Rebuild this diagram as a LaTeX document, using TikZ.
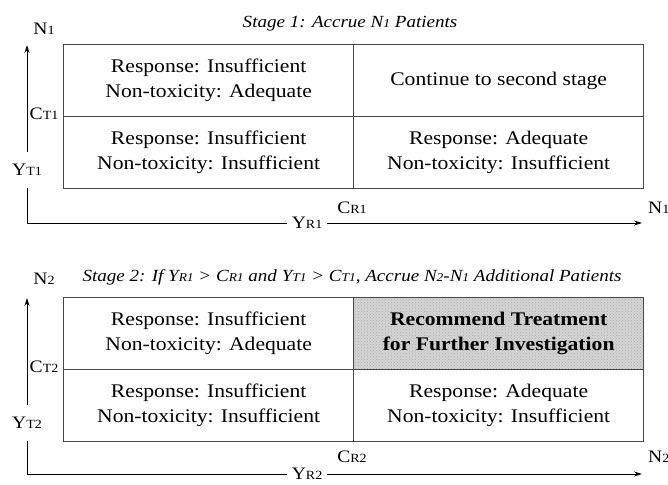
\documentclass[tikz,border=0pt]{standalone}
\usepackage{fontspec}
\setmainfont[FakeStretch=1.12]{Liberation Serif}
\usetikzlibrary{arrows.meta,patterns}
\newcommand\axlab[2]{{\fontsize{17.5}{19}\selectfont #1}{\fontsize{12.5}{14}\selectfont #2}}
\newcommand\ttlsub[1]{{\fontsize{12}{14}\selectfont #1}}
\begin{document}
\begin{tikzpicture}[x=1pt,y=-1pt,
  cell/.style={draw=black!72, line width=1.3pt, minimum width=290pt, minimum height=72pt,
    align=center, inner sep=0pt, anchor=north west, font=\fontsize{19.3}{25}\selectfont},
  shaded/.style={preaction={fill=black!17}, pattern=crosshatch dots, pattern color=black!32},
  axis/.style={draw=black, line width=0.9pt},
  arr/.style={-{Stealth[length=8pt,width=5pt]}},
  lab/.style={inner sep=0pt},
  ttl/.style={inner sep=0pt, font=\fontsize{17}{20}\selectfont\itshape}]
\useasboundingbox (0,0) rectangle (668,484);

% ---------- Stage 1 ----------
\node[ttl] (t1) at (350,24) {Stage 1: Accrue N\ttlsub{1} Patients};
\node[cell] (a11) at (63,44) {Response: Insufficient\\Non-toxicity: Adequate};
\node[cell] (a12) at (353,44) {Continue to second stage};
\node[cell] (a21) at (63,116) {Response: Insufficient\\Non-toxicity: Insufficient};
\node[cell] (a22) at (353,116) {Response: Adequate\\Non-toxicity: Insufficient};

\node[lab] (n1top) at (44,29) {\axlab{N}{1}};
\node[lab] (ct1) at (44,114) {\axlab{C}{T1}};
\node[lab, minimum height=36pt] (yt1) at (27,170) {\axlab{Y}{T1}};
\node[lab] (cr1) at (352,208) {\axlab{C}{R1}};
\node[lab, anchor=west] (n1r) at (648,208) {\axlab{N}{1}};
\node[lab, minimum width=39pt] (yr1) at (307,223) {\axlab{Y}{R1}};
\coordinate (v1top) at (27,45);
\coordinate (h1end) at (642,223);

\draw[axis,arr] (yt1.north) -- (v1top);
\draw[axis] (yt1.south) |- (yr1.west);
\draw[axis,arr] (yr1.east) -- (h1end);

% ---------- Stage 2 ----------
\node[ttl] (t2) at (352,277) {Stage 2: If Y\ttlsub{R1} {>} C\ttlsub{R1} and Y\ttlsub{T1} {>} C\ttlsub{T1}, Accrue N\ttlsub{2}-N\ttlsub{1} Additional Patients};
\node[cell] (b11) at (63,297) {Response: Insufficient\\Non-toxicity: Adequate};
\node[cell, shaded, font=\fontsize{19.3}{25}\selectfont\bfseries] (b12) at (353,297) {Recommend Treatment\\for Further Investigation};
\node[cell] (b21) at (63,369) {Response: Insufficient\\Non-toxicity: Insufficient};
\node[cell] (b22) at (353,369) {Response: Adequate\\Non-toxicity: Insufficient};

\node[lab] (n2top) at (44,279) {\axlab{N}{2}};
\node[lab] (ct2) at (44,367) {\axlab{C}{T2}};
\node[lab, minimum height=36pt] (yt2) at (27,423) {\axlab{Y}{T2}};
\node[lab] (cr2) at (352,457) {\axlab{C}{R2}};
\node[lab, anchor=west] (n2r) at (648,457) {\axlab{N}{2}};
\node[lab, minimum width=39pt] (yr2) at (307,474) {\axlab{Y}{R2}};
\coordinate (v2top) at (27,298);
\coordinate (h2end) at (642,474);

\draw[axis,arr] (yt2.north) -- (v2top);
\draw[axis] (yt2.south) |- (yr2.west);
\draw[axis,arr] (yr2.east) -- (h2end);
\end{tikzpicture}
\end{document}
